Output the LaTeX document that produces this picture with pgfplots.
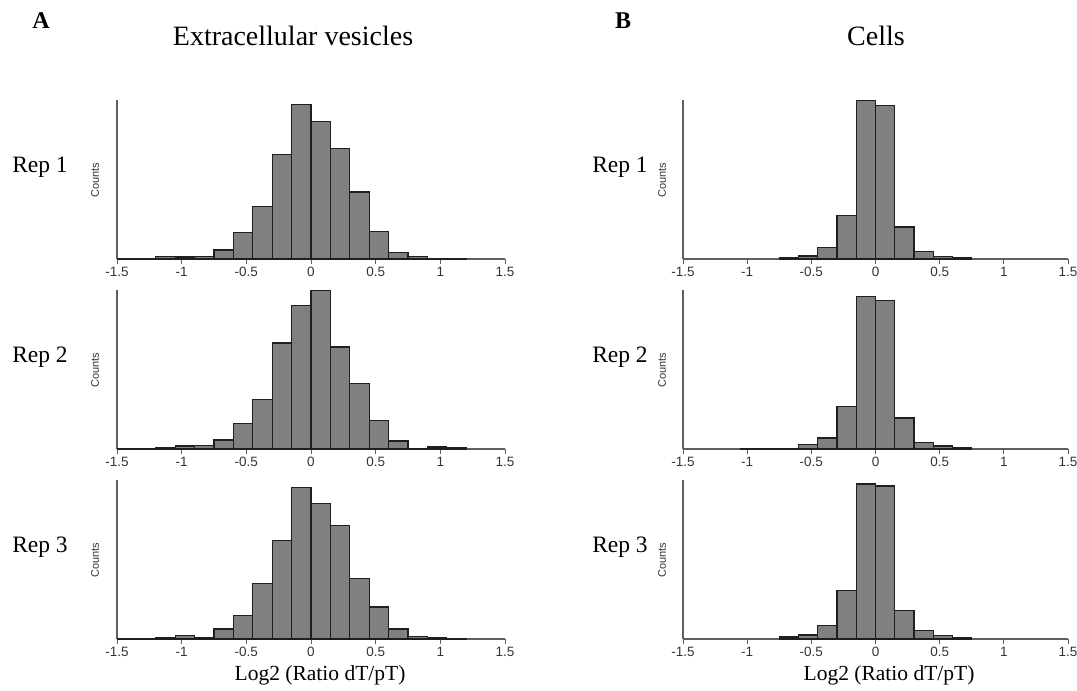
\documentclass[border=0pt]{standalone}
\usepackage{pgfplots}
\pgfplotsset{compat=1.18}
\usepackage{fontspec}
\setmainfont{Liberation Serif}
\setsansfont{Liberation Sans}
\definecolor{barfill}{RGB}{128,128,128}
\definecolor{axisgray}{RGB}{95,95,95}
\pgfplotsset{
  hist/.style={
    scale only axis,
    width=388pt, height=159pt,
    xmin=-1.5, xmax=1.5, ymin=0, ymax=478,
    axis x line*=bottom, axis y line*=left,
    axis line style={draw=axisgray, line width=1.2pt},
    xtick={-1.5,-1,-0.5,0,0.5,1,1.5},
    xticklabels={-1.5,-1,-0.5,0,0.5,1,1.5},
    ytick=\empty,
    tick align=outside,
    major tick length=5pt,
    tick style={draw=axisgray, line width=1pt},
    xticklabel style={font=\sffamily\fontsize{13.5}{13.5}\selectfont, text=black!80, inner sep=1pt, yshift=-2pt},
    anchor=south west,
  },
  bars/.style={ybar interval, fill=barfill, draw=black!88, line width=1.3pt, mark=none},
}
\begin{document}
\begin{tikzpicture}
\useasboundingbox (0,0) rectangle (1077pt,-691pt);
% ---------- Column A : extracellular vesicles ----------
\begin{axis}[hist, at={(117pt,-259pt)}]
\addplot[bars] coordinates {(-1.5,1) (-1.35,1) (-1.2,8) (-1.05,6) (-0.9,7) (-0.75,27) (-0.6,79) (-0.45,157) (-0.3,315) (-0.15,465) (0,414) (0.15,333) (0.3,201) (0.45,82) (0.6,19) (0.75,7) (0.9,2) (1.05,1) (1.2,1)};
\end{axis}
\begin{axis}[hist, at={(117pt,-449pt)}]
\addplot[bars] coordinates {(-1.5,2) (-1.35,2) (-1.2,5) (-1.05,9) (-0.9,11) (-0.75,27) (-0.6,77) (-0.45,149) (-0.3,319) (-0.15,432) (0,478) (0.15,307) (0.3,197) (0.45,86) (0.6,24) (0.75,2) (0.9,6) (1.05,3) (1.2,3)};
\end{axis}
\begin{axis}[hist, at={(117pt,-639pt)}]
\addplot[bars] coordinates {(-1.5,2) (-1.35,2) (-1.2,5) (-1.05,10) (-0.9,3) (-0.75,30) (-0.6,70) (-0.45,167) (-0.3,296) (-0.15,455) (0,408) (0.15,342) (0.3,181) (0.45,96) (0.6,30) (0.75,8) (0.9,5) (1.05,2) (1.2,2)};
\end{axis}
% ---------- Column B : cells ----------
\begin{axis}[hist, width=385pt, at={(683pt,-259pt)}]
\addplot[bars] coordinates {(-0.75,3) (-0.6,9) (-0.45,35) (-0.3,131) (-0.15,478) (0,461) (0.15,96) (0.3,22) (0.45,8) (0.6,3) (0.75,3)};
\end{axis}
\begin{axis}[hist, width=385pt, at={(683pt,-449pt)}]
\addplot[bars] coordinates {(-1.05,2) (-0.9,2) (-0.75,2) (-0.6,13) (-0.45,33) (-0.3,128) (-0.15,458) (0,446) (0.15,93) (0.3,20) (0.45,9) (0.6,5) (0.75,5)};
\end{axis}
\begin{axis}[hist, width=385pt, at={(683pt,-639pt)}]
\addplot[bars] coordinates {(-0.75,6) (-0.6,12) (-0.45,40) (-0.3,145) (-0.15,466) (0,460) (0.15,86) (0.3,25) (0.45,10) (0.6,5) (0.75,5)};
\end{axis}
% ---------- Text ----------
\node[font=\bfseries\fontsize{24}{24}\selectfont] at (41pt,-21pt) {A};
\node[font=\bfseries\fontsize{24}{24}\selectfont] at (623pt,-21pt) {B};
\node[anchor=base, font=\fontsize{28}{28}\selectfont] at (293pt,-45pt) {Extracellular vesicles};
\node[anchor=base, font=\fontsize{28}{28}\selectfont] at (876pt,-45pt) {Cells};
\foreach \r/\yc in {1/180, 2/370, 3/560}{
  \node[anchor=base, font=\fontsize{23.5}{23.5}\selectfont] at (40pt,-\yc pt+8pt) {Rep \r};
  \node[anchor=base, font=\fontsize{23.5}{23.5}\selectfont] at (620pt,-\yc pt+8pt) {Rep \r};
  \node[rotate=90, font=\sffamily\fontsize{11}{11}\selectfont, text=black!80] at (95pt,-\yc pt) {Counts};
  \node[rotate=90, font=\sffamily\fontsize{11}{11}\selectfont, text=black!80] at (662pt,-\yc pt) {Counts};
}
\node[anchor=base, font=\fontsize{21.5}{21.5}\selectfont] at (320pt,-680pt) {Log2 (Ratio dT/pT)};
\node[anchor=base, font=\fontsize{21.5}{21.5}\selectfont] at (889pt,-680pt) {Log2 (Ratio dT/pT)};
\end{tikzpicture}
\end{document}
